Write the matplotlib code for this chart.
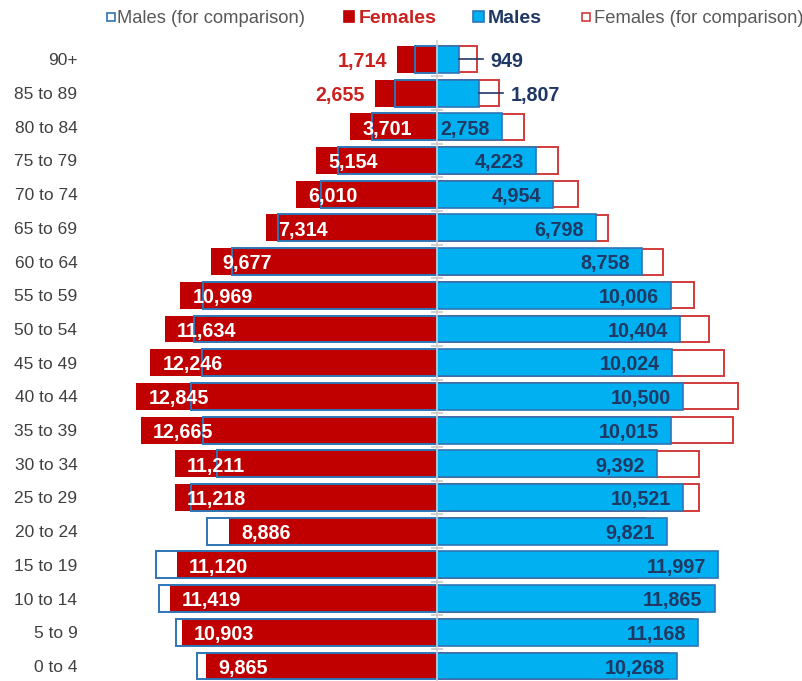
"""
Population pyramid - females vs males by 5-year age group,
with the opposite sex drawn as an outline for comparison.
"""

import matplotlib.pyplot as plt
from matplotlib.patches import Rectangle

plt.rcParams["font.family"] = ["Liberation Sans", "DejaVu Sans"]

# data (top row first, as in the picture)
age_groups = ["90+", "85 to 89", "80 to 84", "75 to 79", "70 to 74", "65 to 69",
              "60 to 64", "55 to 59", "50 to 54", "45 to 49", "40 to 44", "35 to 39",
              "30 to 34", "25 to 29", "20 to 24", "15 to 19", "10 to 14", "5 to 9",
              "0 to 4"]
females = [1714, 2655, 3701, 5154, 6010, 7314, 9677, 10969, 11634, 12246,
           12845, 12665, 11211, 11218, 8886, 11120, 11419, 10903, 9865]
males = [949, 1807, 2758, 4223, 4954, 6798, 8758, 10006, 10404, 10024,
         10500, 10015, 9392, 10521, 9821, 11997, 11865, 11168, 10268]

# colours
RED = "#C00000"
RED_TXT = "#C9211E"
RED_EDGE = "#D23B3B"
BLUE = "#00B0F0"
BLUE_EDGE = "#2E75B6"
NAVY = "#1F3864"
GRAY_TXT = "#595959"

W, H = 802, 681
CENTER_PX = 437
UNITS_PER_PX = 42.74
AX_LEFT_PX = 90
AX_TOP_PX = 40
ROW_PX = 33.7
LABEL_FS = 14.2


def px(n):
    """pixel distance -> data units along x"""
    return n * UNITS_PER_PX


def main():
    fig = plt.figure(figsize=(W / 100, H / 100), dpi=100)
    ax = fig.add_axes([AX_LEFT_PX / W, 0, (W - AX_LEFT_PX) / W, (H - AX_TOP_PX) / H])

    n = len(age_groups)
    ys = [n - 1 - i for i in range(n)]
    bh = 0.8

    # right side: females outline first, males on top
    ax.barh(ys, females, height=bh * 0.97, color="white", edgecolor=RED_EDGE, lw=1.4,
            zorder=2)
    ax.barh(ys, males, height=bh, color=BLUE, edgecolor=BLUE_EDGE, lw=1.2, zorder=3)
    # left side: females filled, males outline on top
    ax.barh(ys, [-v for v in females], height=bh, color=RED, lw=0, zorder=3)
    ax.barh(ys, [-v for v in males], height=bh, color="none", edgecolor=BLUE_EDGE,
            lw=1.4, zorder=4)

    # centre axis with small ticks between rows
    ax.axvline(0, color="#D0D0D0", lw=1.2, zorder=5)
    ax.plot([0] * (n - 1), [y + 0.5 for y in range(n - 1)], ls="none", marker="_",
            ms=8, mew=1.2, color="#C8C8C8", zorder=5)

    # value labels (baseline dropped so digits sit centred on the bar)
    dy = 7.8 / ROW_PX
    for y, f, m in zip(ys, females, males):
        if f < 3000:
            ax.text(-f - px(10), y - dy, f"{f:,}", ha="right", va="baseline",
                    color=RED_TXT, fontsize=LABEL_FS, fontweight="bold", zorder=6)
        else:
            ax.text(-f + px(12), y - dy, f"{f:,}", ha="left", va="baseline",
                    color="white", fontsize=LABEL_FS, fontweight="bold", zorder=6)
        if m < 2000:
            ax.plot([m, m + px(24)], [y, y], color=NAVY, lw=1.2, zorder=6)
            ax.text(m + px(31), y - dy, f"{m:,}", ha="left", va="baseline",
                    color=NAVY, fontsize=LABEL_FS, fontweight="bold", zorder=6)
        else:
            ax.text(m - px(12), y - dy, f"{m:,}", ha="right", va="baseline",
                    color=NAVY, fontsize=LABEL_FS, fontweight="bold", zorder=6)

    ax.set_xlim(-px(CENTER_PX - AX_LEFT_PX), px(W - CENTER_PX))
    y0_px = 666
    ax.set_ylim((y0_px - H) / ROW_PX, (y0_px - AX_TOP_PX) / ROW_PX)

    ax.set_yticks(ys)
    ax.set_yticklabels(age_groups, fontsize=12.5, color="#404040")
    ax.tick_params(axis="y", length=0, pad=9)
    ax.set_xticks([])
    for s in ax.spines.values():
        s.set_visible(False)

    # legend drawn by hand along the top (pixel positions from the top-left)
    base = H - 23
    items = [
        # square x, square size, face, edge, text x, label, colour, weight, size
        (107, 8, "white", BLUE_EDGE, 117, "Males (for comparison)", GRAY_TXT, "normal", 13.2),
        (344, 10, RED, RED, 359, "Females", RED_TXT, "bold", 14),
        (473, 11, BLUE, BLUE_EDGE, 488, "Males", NAVY, "bold", 14),
        (582, 8, "white", RED_EDGE, 593.5, "Females (for comparison)", GRAY_TXT, "normal", 13.2),
    ]
    for sx, sz, fc, ec, tx, label, tc, fw, fs in items:
        fig.patches.append(Rectangle((sx / W, (H - 16.5 - sz / 2) / H), sz / W, sz / H,
                                     facecolor=fc, edgecolor=ec, lw=1.2,
                                     transform=fig.transFigure, figure=fig))
        fig.text(tx / W, base / H, label, ha="left", va="baseline", color=tc,
                 fontsize=fs, fontweight=fw)

    fig.savefig("out.png", dpi=100, facecolor="white")


if __name__ == "__main__":
    main()
